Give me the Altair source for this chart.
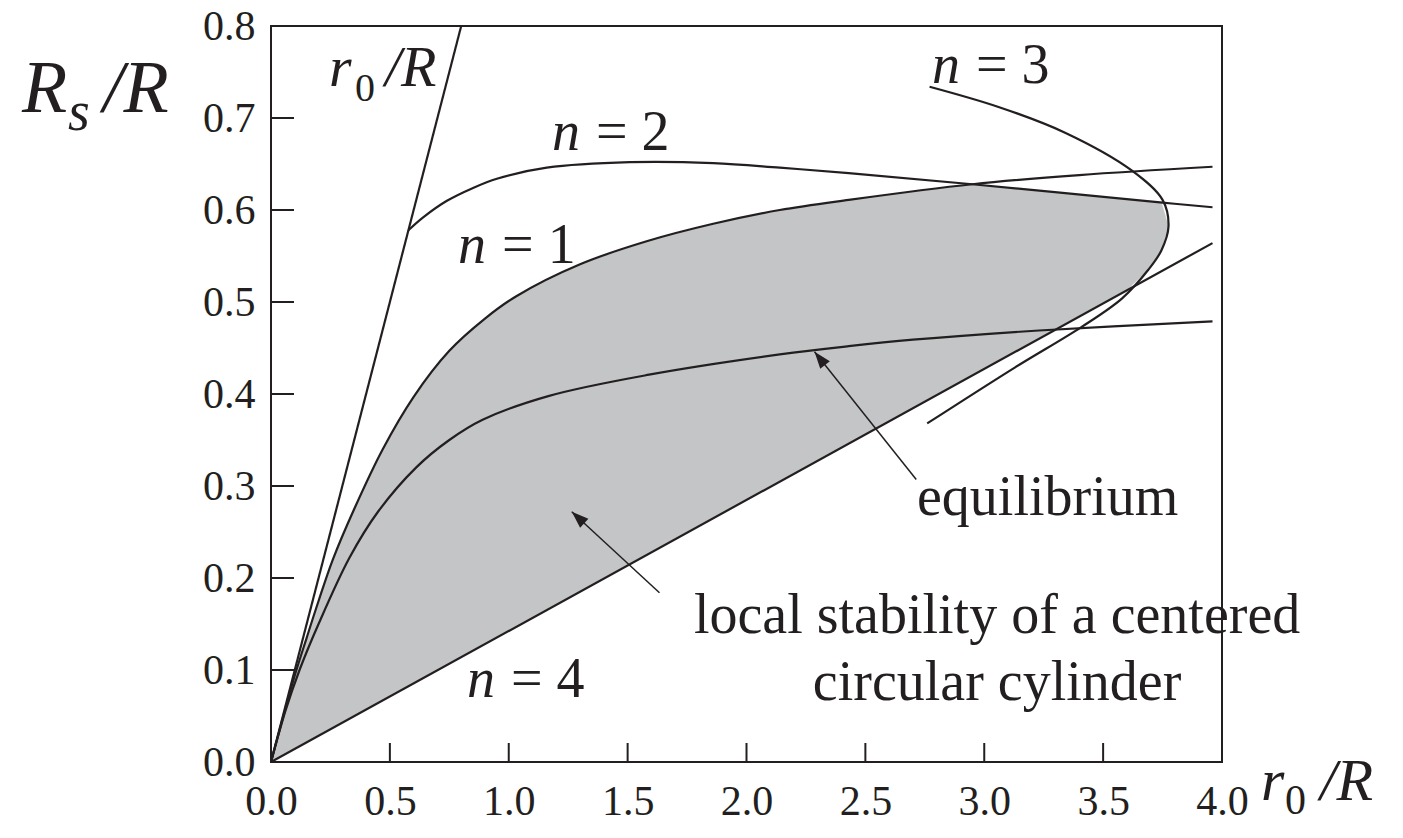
import altair as alt
import pandas as pd

FONT = "Liberation Serif"
INK = "#231f20"
GRAY = "#c4c5c7"

# ---------------- curve data ----------------
r0_x = [0.0, 0.8]
r0_y = [0.0, 0.8]

n1_x = [0.0, 0.05, 0.10, 0.15, 0.20, 0.26, 0.35, 0.47, 0.60, 0.75, 0.90, 1.03, 1.30, 1.58, 1.86, 2.14, 2.43, 2.95, 3.40, 3.96]
n1_y = [0.0, 0.048, 0.094, 0.135, 0.175, 0.220, 0.275, 0.340, 0.397, 0.447, 0.482, 0.506, 0.541, 0.566, 0.585, 0.600, 0.611, 0.628, 0.638, 0.647]

n2_x = [0.578, 0.64, 0.74, 0.85, 0.95, 1.16, 1.51, 1.86, 2.14, 2.43, 2.95, 3.75, 3.96]
n2_y = [0.578, 0.592, 0.610, 0.624, 0.634, 0.646, 0.652, 0.651, 0.646, 0.640, 0.628, 0.608, 0.603]

n3_x = [2.77, 3.06, 3.34, 3.62, 3.75, 3.775, 3.745, 3.69, 3.58, 3.41, 3.13, 2.76]
n3_y = [0.734, 0.712, 0.684, 0.643, 0.611, 0.582, 0.556, 0.535, 0.504, 0.473, 0.429, 0.368]

n4_x = [0.0, 3.96]
n4_y = [0.0, 0.564]

eq_x = [0.0, 0.06, 0.12, 0.20, 0.33, 0.45, 0.61, 0.75, 0.89, 1.17, 1.59, 2.14, 2.43, 2.70, 3.23, 3.96]
eq_y = [0.0, 0.055, 0.100, 0.150, 0.222, 0.272, 0.320, 0.350, 0.372, 0.398, 0.421, 0.443, 0.452, 0.459, 0.469, 0.479]

# shaded region of local stability (closed outline: n=1, n=2, n=3, n=4)
fill_x = [0.0, 0.05, 0.10, 0.15, 0.20, 0.26, 0.35, 0.47, 0.60, 0.75, 0.90, 1.03, 1.30, 1.58, 1.86, 2.14, 2.43, 2.95,
          3.35, 3.745, 3.775, 3.745, 3.69, 3.60, 0.0]
fill_y = [0.0, 0.048, 0.094, 0.135, 0.175, 0.220, 0.275, 0.340, 0.397, 0.447, 0.482, 0.506, 0.541, 0.566, 0.585, 0.600, 0.611, 0.628,
          0.618, 0.608, 0.582, 0.556, 0.535, 0.513, 0.0]

# axes
x_ticks = [0.0, 0.5, 1.0, 1.5, 2.0, 2.5, 3.0, 3.5, 4.0]
y_ticks = [0.0, 0.1, 0.2, 0.3, 0.4, 0.5, 0.6, 0.7, 0.8]
x_inner_ticks = [0.5, 1.0, 1.5, 2.0, 2.5, 3.0, 3.5]
y_inner_ticks = [0.1, 0.2, 0.3, 0.4, 0.5, 0.6, 0.7]

# arrows (tail -> tip)
arrow_x = [2.714, 1.634]
arrow_y = [0.307, 0.184]
arrow_x2 = [2.286, 1.265]
arrow_y2 = [0.446, 0.272]
arrow_angle = [321.6, 312.6]

# labels
ital_text = ["R", "/R", "r", "/R", "r", "/R", "n", "n", "n", "n"]
ital_x = [-1.047, -0.7066, 0.244, 0.4795, 4.164, 4.412, 2.780, 1.182, 0.787, 0.824]
ital_y = [0.7065, 0.7065, 0.7348, 0.7348, -0.0413, -0.0413, 0.738, 0.665, 0.542, 0.0707]
ital_size = [74, 74, 58, 58, 60, 60, 56, 56, 56, 56]

sub_text = ["s"]
sub_x = [-0.854]
sub_y = [0.687]
sub_size = [56]

up_text = ["0", "0", "= 3", "= 2", "= 1", "= 4", "equilibrium"]
up_x = [0.3533, 4.265, 2.965, 1.367, 0.972, 1.009, 2.717]
up_y = [0.7185, -0.0565, 0.738, 0.665, 0.542, 0.0707, 0.2685]
up_size = [40, 42, 56, 56, 56, 56, 56]

center_text = ["local stability of a centered", "circular cylinder"]
center_x = [3.054, 3.054]
center_y = [0.1402, 0.0674]

# ---------------- build tables ----------------
def curve(name, xs, ys):
    return pd.DataFrame({"curve": name, "i": range(len(xs)), "x": xs, "y": ys})

curves = pd.concat([
    curve("r0", r0_x, r0_y), curve("n1", n1_x, n1_y), curve("n2", n2_x, n2_y),
    curve("n3", n3_x, n3_y), curve("n4", n4_x, n4_y), curve("eq", eq_x, eq_y),
])
fill_df = pd.DataFrame({"i": range(len(fill_x)), "x": fill_x, "y": fill_y})

xs = alt.Scale(domain=[0, 4], nice=False, zero=False)
ys = alt.Scale(domain=[0, 0.8], nice=False, zero=False)

x_axis = alt.Axis(values=x_ticks, format=".1f", ticks=False, domain=False, grid=False,
                  labelFont=FONT, labelFontSize=42, labelColor=INK, labelPadding=52,
                  labelBaseline="alphabetic", labelFlush=False, labelOverlap=False, title=None)
y_axis = alt.Axis(values=y_ticks, format=".1f", ticks=False, domain=False, grid=False,
                  labelFont=FONT, labelFontSize=42, labelColor=INK, labelPadding=16,
                  labelFlush=False, labelOverlap=False, title=None)

fill = alt.Chart(fill_df).mark_line(fill=GRAY, stroke=GRAY, strokeWidth=0.5, interpolate="linear").encode(
    x=alt.X("x:Q", scale=xs, axis=x_axis),
    y=alt.Y("y:Q", scale=ys, axis=y_axis),
    order="i:Q",
)

lines = alt.Chart(curves).mark_line(color=INK, strokeWidth=2.2, interpolate="catmull-rom").encode(
    x=alt.X("x:Q", scale=xs), y=alt.Y("y:Q", scale=ys), detail="curve:N", order="i:Q",
)

ytk = alt.Chart(pd.DataFrame({"v": y_inner_ticks})).mark_rule(color=INK, strokeWidth=2).encode(
    y=alt.Y("v:Q", scale=ys), x=alt.value(0), x2=alt.value(23),
)
xtk = alt.Chart(pd.DataFrame({"v": x_inner_ticks})).mark_rule(color=INK, strokeWidth=2).encode(
    x=alt.X("v:Q", scale=xs), y=alt.value(736), y2=alt.value(717),
)

arr_df = pd.DataFrame({"x": arrow_x, "y": arrow_y, "x2": arrow_x2, "y2": arrow_y2, "a": arrow_angle})
arrows = alt.Chart(arr_df).mark_rule(color=INK, strokeWidth=1.5).encode(
    x=alt.X("x:Q", scale=xs), y=alt.Y("y:Q", scale=ys), x2="x2:Q", y2="y2:Q",
)
heads = alt.Chart(arr_df).mark_point(shape="M0,0 L-0.36,1 L0.36,1 Z", filled=True, color=INK,
                                     size=1156, opacity=1).encode(
    x=alt.X("x2:Q", scale=xs), y=alt.Y("y2:Q", scale=ys), angle=alt.Angle("a:Q", scale=None),
)

def text_layer(df, **kw):
    return alt.Chart(df).mark_text(font=FONT, color=INK, baseline="alphabetic", **kw).encode(
        x=alt.X("x:Q", scale=xs), y=alt.Y("y:Q", scale=ys), text="t:N",
        size=alt.Size("s:Q", scale=None),
    )

ital = text_layer(pd.DataFrame({"t": ital_text, "x": ital_x, "y": ital_y, "s": ital_size}),
                  align="left", fontStyle="italic")
sub = text_layer(pd.DataFrame({"t": sub_text, "x": sub_x, "y": sub_y, "s": sub_size}),
                 align="left", fontStyle="italic")
up = text_layer(pd.DataFrame({"t": up_text, "x": up_x, "y": up_y, "s": up_size}), align="left")
cen = text_layer(pd.DataFrame({"t": center_text, "x": center_x, "y": center_y, "s": [56, 56]}),
                 align="center")

chart = alt.layer(fill, lines, ytk, xtk, arrows, heads, ital, sub, up, cen).properties(
    width=951, height=736,
    autosize=alt.AutoSizeParams(type="none"),
    padding={"left": 263, "top": 18, "right": 170, "bottom": 68},
).configure_view(stroke=INK, strokeWidth=2)

chart.save("out.html", embed_options={"renderer": "svg", "actions": False})
